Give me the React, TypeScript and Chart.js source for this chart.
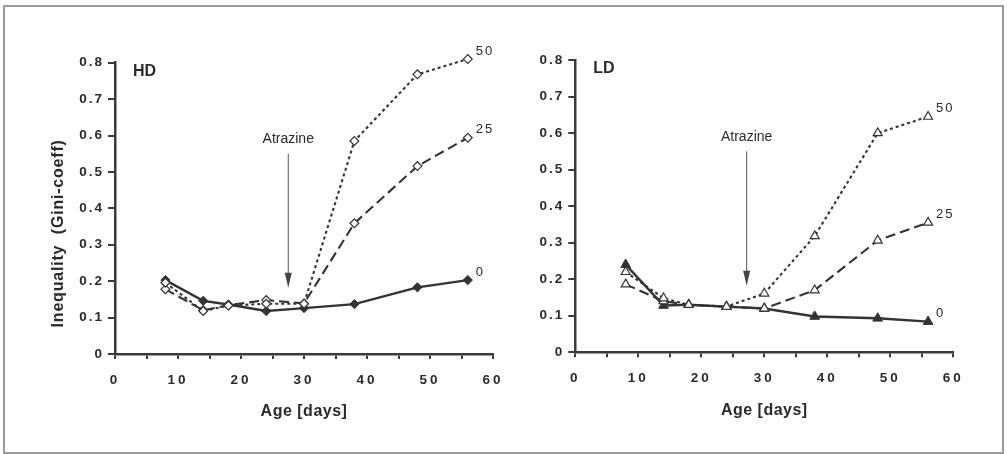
import React, { useEffect, useRef } from 'react';
import { Chart, registerables } from 'chart.js';

Chart.register(...registerables);

// ---------- data ----------
const AGE_DAYS = [8, 14, 18, 24, 30, 38, 48, 56];

const HD_0 = [0.203, 0.146, 0.136, 0.118, 0.126, 0.137, 0.183, 0.203];
const HD_25 = [0.178, 0.12, 0.134, 0.148, 0.139, 0.359, 0.516, 0.594];
const HD_50 = [0.196, 0.118, 0.133, 0.138, 0.138, 0.585, 0.768, 0.81];

const LD_0 = [0.24, 0.128, 0.13, 0.125, 0.12, 0.098, 0.093, 0.084];
const LD_25 = [0.186, 0.14, 0.13, 0.125, 0.12, 0.17, 0.306, 0.355];
const LD_50 = [0.22, 0.148, 0.13, 0.125, 0.161, 0.318, 0.6, 0.645];

const SERIES_NAMES = ['50', '25', '0'];
const X_MIN = 0;
const X_MAX = 60;
const X_STEP = 5;
const X_LABEL_EVERY = 10;
const Y_MIN = 0;
const Y_MAX = 0.8;
const Y_STEP = 0.1;

const X_TITLE = 'Age [days]';
const Y_TITLE = 'Inequality  (Gini-coeff)';
const ARROW_TEXT = 'Atrazine';
const ARROW_TOP_Y = 0.55;
const ARROW_TIP_Y = 0.182;
const ARROW_TEXT_Y = 0.59;

// ---------- styles ----------
const FONT = "'Liberation Sans', Arial, Helvetica, sans-serif";
const INK = '#333333';
const AXIS = '#3a3a3a';
const TEXT = '#2a2a2a';

type Panel = {
  name: string;
  s0: number[];
  s25: number[];
  s50: number[];
  marker: 'rectRot' | 'triangle';
  arrowDay: number;
  yTitle: boolean;
  canvasLeft: number;
  canvasWidth: number;
  areaLeft: number;
  areaRight: number;
  areaTop: number;
  areaBottom: number;
};

const H = 454;

const PANELS: Panel[] = [
  {
    name: 'HD', s0: HD_0, s25: HD_25, s50: HD_50, marker: 'rectRot', arrowDay: 27.5, yTitle: true,
    canvasLeft: 0, canvasWidth: 530, areaLeft: 115, areaRight: 493, areaTop: 62.7, areaBottom: 354,
  },
  {
    name: 'LD', s0: LD_0, s25: LD_25, s50: LD_50, marker: 'triangle', arrowDay: 27.2, yTitle: false,
    canvasLeft: 530, canvasWidth: 477, areaLeft: 575.3, areaRight: 953.3, areaTop: 60, areaBottom: 352.3,
  },
];

function pts(ys: number[]) {
  return AGE_DAYS.map((x, i) => ({ x, y: ys[i] }));
}

function makeConfig(p: Panel): any {
  const big = p.marker === 'triangle' ? 5.6 : 4.6;
  const small = p.marker === 'triangle' ? 5.2 : 4.4;
  const datasets = [
    {
      label: SERIES_NAMES[0], data: pts(p.s50), borderColor: INK, borderWidth: 2.1, borderDash: [3, 3],
      pointStyle: p.marker, pointRadius: small, pointBackgroundColor: '#fff', pointBorderColor: INK,
      pointBorderWidth: 1.2, tension: 0, clip: false,
    },
    {
      label: SERIES_NAMES[1], data: pts(p.s25), borderColor: INK, borderWidth: 2.1, borderDash: [10, 5],
      pointStyle: p.marker, pointRadius: small, pointBackgroundColor: '#fff', pointBorderColor: INK,
      pointBorderWidth: 1.2, tension: 0, clip: false,
    },
    {
      label: SERIES_NAMES[2], data: pts(p.s0), borderColor: INK, borderWidth: 2.4,
      pointStyle: p.marker, pointRadius: big, pointBackgroundColor: INK, pointBorderColor: INK,
      pointBorderWidth: 1, tension: 0, clip: false,
    },
  ];

  const annot = {
    id: 'annot_' + p.name,
    beforeDraw(chart: any) {
      const spacing: Record<string, string> = { x: '3px', y: '2px' };
      for (const id of ['x', 'y']) {
        const s: any = chart.scales[id];
        if (s && !s.__ls) {
          const orig = s.drawLabels.bind(s);
          s.drawLabels = (ca: any) => {
            chart.ctx.letterSpacing = spacing[id];
            orig(ca);
            chart.ctx.letterSpacing = '0px';
          };
          s.__ls = true;
        }
      }
    },
    afterDraw(chart: any) {
      const ctx = chart.ctx as CanvasRenderingContext2D;
      const xs = chart.scales.x;
      const ys = chart.scales.y;
      const area = chart.chartArea;
      ctx.save();
      ctx.fillStyle = TEXT;
      ctx.strokeStyle = '#555';

      // panel label
      ctx.font = `bold 16px ${FONT}`;
      ctx.textAlign = 'left';
      ctx.textBaseline = 'top';
      ctx.fillText(p.name, area.left + 18, area.top + 1);

      // Atrazine arrow
      const ax = xs.getPixelForValue(p.arrowDay);
      const yTop = ys.getPixelForValue(ARROW_TOP_Y);
      const yTip = ys.getPixelForValue(ARROW_TIP_Y);
      ctx.lineWidth = 1;
      ctx.beginPath();
      ctx.moveTo(ax, yTop);
      ctx.lineTo(ax, yTip - 12);
      ctx.stroke();
      ctx.fillStyle = '#444';
      ctx.beginPath();
      ctx.moveTo(ax - 3.5, yTip - 15);
      ctx.lineTo(ax + 3.5, yTip - 15);
      ctx.lineTo(ax, yTip);
      ctx.closePath();
      ctx.fill();
      ctx.fillStyle = TEXT;
      ctx.font = `14px ${FONT}`;
      ctx.textAlign = 'center';
      ctx.textBaseline = 'middle';
      ctx.fillText(ARROW_TEXT, ax, ys.getPixelForValue(ARROW_TEXT_Y));

      // series end labels
      ctx.font = `13px ${FONT}`;
      ctx.textAlign = 'left';
      (ctx as any).letterSpacing = '2px';
      chart.data.datasets.forEach((ds: any, i: number) => {
        const meta = chart.getDatasetMeta(i);
        const last = meta.data[meta.data.length - 1];
        ctx.fillText(ds.label, last.x + 8, last.y - 8);
      });

      // axis titles
      ctx.font = `bold 16px ${FONT}`;
      (ctx as any).letterSpacing = '0.5px';
      ctx.textAlign = 'center';
      ctx.fillText(X_TITLE, (area.left + area.right) / 2, area.bottom + 58);
      if (p.yTitle) {
        (ctx as any).letterSpacing = '0.8px';
        ctx.translate(area.left - 56, (area.top + area.bottom) / 2 + 25);
        ctx.rotate(-Math.PI / 2);
        ctx.fillText(Y_TITLE, 0, 0);
      }
      (ctx as any).letterSpacing = '0px';
      ctx.restore();
    },
  };

  const yWidth = p.areaLeft - p.canvasLeft;
  const xHeight = H - p.areaBottom;

  return {
    type: 'line',
    data: { datasets },
    options: {
      responsive: false,
      animation: false,
      events: [],
      layout: {
        padding: { left: 0, top: p.areaTop, right: p.canvasLeft + p.canvasWidth - p.areaRight, bottom: 0 },
      },
      plugins: { legend: { display: false }, tooltip: { enabled: false } },
      scales: {
        x: {
          type: 'linear',
          min: X_MIN,
          max: X_MAX,
          afterFit: (s: any) => { s.height = xHeight; },
          ticks: {
            stepSize: X_STEP,
            autoSkip: false,
            maxRotation: 0,
            padding: 13,
            color: TEXT,
            font: { family: FONT, size: 13.5, weight: 'bold' },
            callback: (v: number) => (v % X_LABEL_EVERY === 0 ? String(v) : ''),
          },
          grid: { drawOnChartArea: false, drawTicks: true, tickLength: 5, color: AXIS, lineWidth: 2 },
          border: { display: true, color: AXIS, width: 2.5 },
        },
        y: {
          type: 'linear',
          min: Y_MIN,
          max: Y_MAX,
          afterFit: (s: any) => { s.width = yWidth; },
          ticks: {
            stepSize: Y_STEP,
            padding: 4,
            color: TEXT,
            font: { family: FONT, size: 13.5, weight: 'bold' },
            callback: (v: number) => (v === 0 ? '0' : Number(v).toFixed(1)),
          },
          grid: { drawOnChartArea: false, drawTicks: true, tickLength: 7, color: AXIS, lineWidth: 2 },
          border: { display: true, color: AXIS, width: 2.5 },
        },
      },
    },
    plugins: [annot],
  };
}

function PanelChart({ panel }: { panel: Panel }) {
  const ref = useRef<HTMLCanvasElement | null>(null);
  useEffect(() => {
    if (!ref.current) return;
    const chart = new Chart(ref.current, makeConfig(panel));
    return () => chart.destroy();
  }, [panel]);
  return (
    <canvas
      ref={ref}
      width={panel.canvasWidth}
      height={H}
      style={{ position: 'absolute', left: panel.canvasLeft, top: 0, width: panel.canvasWidth, height: H }}
    />
  );
}

export default function App() {
  return (
    <div style={{ position: 'fixed', left: 0, top: 0, width: 1007, height: H, background: '#fff', overflow: 'hidden' }}>
      <div
        style={{
          position: 'absolute', left: 3, top: 5, width: 1001, height: 449, boxSizing: 'border-box',
          border: '2px solid #9a9a9a',
        }}
      />
      {PANELS.map((p) => (
        <PanelChart key={p.name} panel={p} />
      ))}
    </div>
  );
}
